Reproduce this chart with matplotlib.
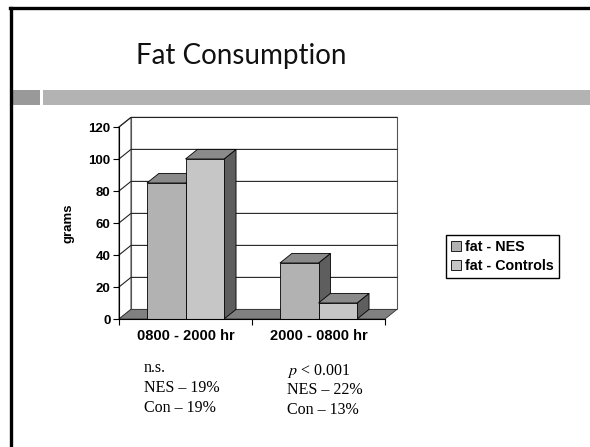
import matplotlib.pyplot as plt
from matplotlib.patches import Rectangle, Polygon, Patch
from matplotlib.lines import Line2D

plt.rcParams['mathtext.fontset'] = 'stix'

# 食物摄入 - 脂肪 (grams)
categories = ['0800 - 2000 hr', '2000 - 0800 hr']
series = ['fat - NES', 'fat - Controls']
fat_nes = [85, 35]
fat_con = [100, 10]
yticks = [0, 20, 40, 60, 80, 100, 120]
notes_left = ['n.s.', 'NES \u2013 19%', 'Con \u2013 19%']
notes_right = ['$p$ < 0.001', 'NES \u2013 22%', 'Con \u2013 13%']

W, H = 590, 447
fig = plt.figure(figsize=(W / 100, H / 100), dpi=100)

def fx(px):
    return px / W

def fy(py):
    return 1 - py / H

# 幻灯片边框
fig.add_artist(Line2D([fx(10), 1], [fy(8), fy(8)], color='black', lw=2.4))
fig.add_artist(Line2D([fx(10.5), fx(10.5)], [0, fy(8)], color='black', lw=2.4))
fig.add_artist(Rectangle((fx(11), fy(105)), fx(29), fy(90) - fy(105), color='#999999', lw=0))
fig.add_artist(Rectangle((fx(43), fy(105)), 1 - fx(43), fy(90) - fy(105), color='#b3b3b3', lw=0))
fig.text(fx(241), fy(56), 'Fat Consumption', ha='center', va='center', fontsize=20,
         family='Lato', color='#111111')

ax = fig.add_axes([fx(119), fy(319), fx(385) - fx(119), fy(127) - fy(319)])
ax.set_xlim(0, 2)
ax.set_ylim(0, 120)

dx, dy = 0.09, 6.0   # 3D 深度偏移
face = 'white'
# 墙面和网格
ax.add_patch(Polygon([(dx, dy), (2 + dx, dy), (2 + dx, 120 + dy), (dx, 120 + dy)],
                     closed=True, fc=face, ec='#555555', lw=0.8, clip_on=False, zorder=1))
ax.add_patch(Polygon([(0, 0), (dx, dy), (dx, 120 + dy), (0, 120)],
                     closed=True, fc=face, ec='#555555', lw=0.8, clip_on=False, zorder=1))
for v in yticks[1:]:
    ax.plot([0, dx, 2 + dx], [v, v + dy, v + dy], color='#222222', lw=0.8,
            clip_on=False, zorder=1.5)
ax.add_patch(Polygon([(0, 0), (2, 0), (2 + dx, dy), (dx, dy)],
                     closed=True, fc='#808080', ec='#333333', lw=0.6, clip_on=False, zorder=2))

bw = 0.29
fronts = ['#b2b2b2', '#c6c6c6']
for i, c in enumerate(categories):
    for j, vals in enumerate([fat_nes, fat_con]):
        x0 = i + 0.5 - bw + j * bw
        v = vals[i]
        ax.add_patch(Polygon([(x0 + bw, 0), (x0 + bw + dx, dy), (x0 + bw + dx, v + dy), (x0 + bw, v)],
                             closed=True, fc='#5e5e5e', ec='black', lw=0.6, clip_on=False, zorder=3 + j))
        ax.add_patch(Polygon([(x0, v), (x0 + bw, v), (x0 + bw + dx, v + dy), (x0 + dx, v + dy)],
                             closed=True, fc='#8a8a8a', ec='black', lw=0.6, clip_on=False, zorder=3 + j))
        ax.bar(x0, v, width=bw, align='edge', color=fronts[j], edgecolor='black', lw=0.6,
               zorder=3 + j)

for s in ['top', 'right']:
    ax.spines[s].set_visible(False)
ax.spines['left'].set_linewidth(0.8)
ax.spines['bottom'].set_linewidth(0.8)
ax.spines['left'].set_zorder(6)
ax.spines['bottom'].set_zorder(6)
ax.set_facecolor('none')

ax.set_yticks(yticks)
ax.set_yticklabels([str(v) for v in yticks], fontsize=9.5, fontweight='bold', family='Liberation Sans')
ax.tick_params(axis='y', direction='out', length=4, width=0.8, pad=2)
ax.set_xticks([0.5, 1.5])
ax.set_xticklabels(categories, fontsize=10.5, fontweight='bold', family='Liberation Sans')
ax.set_xticks([0, 1, 2], minor=True)
ax.tick_params(axis='x', which='major', length=0, pad=7)
ax.tick_params(axis='x', which='minor', direction='out', length=4, width=0.8)
ax.set_ylabel('grams', fontsize=9.5, fontweight='bold', family='Liberation Sans', labelpad=10)

handles = [Patch(fc=fronts[0], ec='black', lw=0.6), Patch(fc=fronts[1], ec='black', lw=0.6)]
fig.legend(handles, series, loc='center', bbox_to_anchor=(fx(502.5), fy(256.5)),
           prop={'family': 'Liberation Sans', 'weight': 'bold', 'size': 10.3},
           frameon=True, fancybox=False, edgecolor='black', framealpha=1,
           handlelength=0.65, handleheight=0.65, handletextpad=0.3, borderpad=0.35,
           labelspacing=0.35, borderaxespad=0)

for k, t in enumerate(notes_left):
    fig.text(fx(144), fy(368 + 20 * k), t, ha='left', va='center', fontsize=11.5,
             family='Liberation Serif')
for k, t in enumerate(notes_right):
    fig.text(fx(287), fy(371 + 19.5 * k), t, ha='left', va='center', fontsize=11.5,
             family='Liberation Serif')

fig.savefig('out.png', dpi=100)
